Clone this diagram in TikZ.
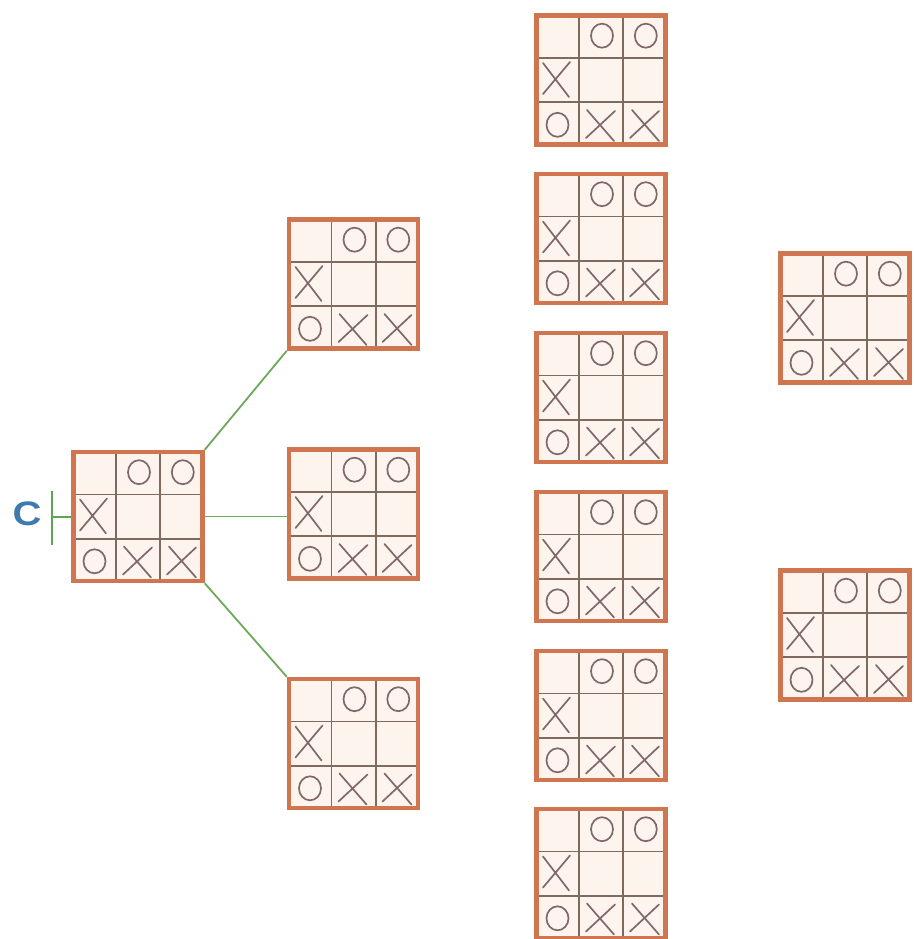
\documentclass[tikz,border=0pt]{standalone}
\usepackage{fontspec}
\setsansfont{Liberation Sans}
\definecolor{frame}{HTML}{CF7650}
\definecolor{grid}{HTML}{7E6A5E}
\definecolor{mark}{HTML}{80686A}
\definecolor{cellfill}{HTML}{FEF4EE}
\definecolor{link}{HTML}{6AAA58}
\definecolor{cblue}{HTML}{3E79B0}
\definecolor{tick}{HTML}{5FA653}
\tikzset{
  omark/.style={draw=mark,line width=1.7pt},
  xmark/.style={draw=mark,line width=1.7pt,line cap=round},
  board/.style={draw=frame,line width=4.5pt,fill=cellfill,minimum width=129pt,minimum height=129pt,inner sep=0pt,
    path picture={
      \begin{scope}[shift={(path picture bounding box.center)}]
        \draw[grid,line width=1.6pt] (-22.2,-66) -- (-22.2,66) (22.2,-66) -- (22.2,66)
             (-66,-22.2) -- (66,-22.2) (-66,22.2) -- (66,22.2);
        % O marks
        \draw[omark] (1,-44.3) ellipse [x radius=11pt,y radius=12pt];
        \draw[omark] (44.8,-44.3) ellipse [x radius=11pt,y radius=12pt];
        \draw[omark] (-43.5,44.8) ellipse [x radius=11pt,y radius=12pt];
        % X marks
        \draw[xmark] (-58,-17) -- (-32,17) (-31,-18) -- (-58,14);
        \draw[xmark] (-14,30) -- (13,61) (14,31) -- (-15,58);
        \draw[xmark] (31,30) -- (58,61) (58,31) -- (29,58);
      \end{scope}
    }},
  linkline/.style={draw=link,line width=1.8pt}
}
\begin{document}
\begin{tikzpicture}[x=1pt,y=-1pt]
\useasboundingbox (0,0) rectangle (914,939);
\node[board] (root) at (138,516.5) {};
\node[board] (c1) at (353.5,284) {};
\node[board] (c2) at (353.5,514) {};
\node[board] (c3) at (353.5,743.5) {};
\node[board] (g1) at (601,80) {};
\node[board] (g2) at (601,238.5) {};
\node[board] (g3) at (601,397.5) {};
\node[board] (g4) at (601,556.5) {};
\node[board] (g5) at (601,715.5) {};
\node[board] (g6) at (601,873.5) {};
\node[board] (r1) at (845,318) {};
\node[board] (r2) at (845,635) {};
\draw[linkline] (root.north east) -- (c1.south west);
\draw[linkline] (root.east) -- (c2.west |- root.east);
\draw[linkline] (root.south east) -- (c3.north west);
\node[font=\sffamily\bfseries,text=cblue,xscale=4.0,yscale=3.4,inner sep=0pt] (lbl) at (27,513.5) {C};
\coordinate (tk) at (52,516.5);
\draw[draw=tick,line width=2pt] ([yshift=-28pt]tk) -- ([yshift=26pt]tk);
\draw[draw=tick,line width=2pt] (tk) -- (root.west);
\end{tikzpicture}
\end{document}
